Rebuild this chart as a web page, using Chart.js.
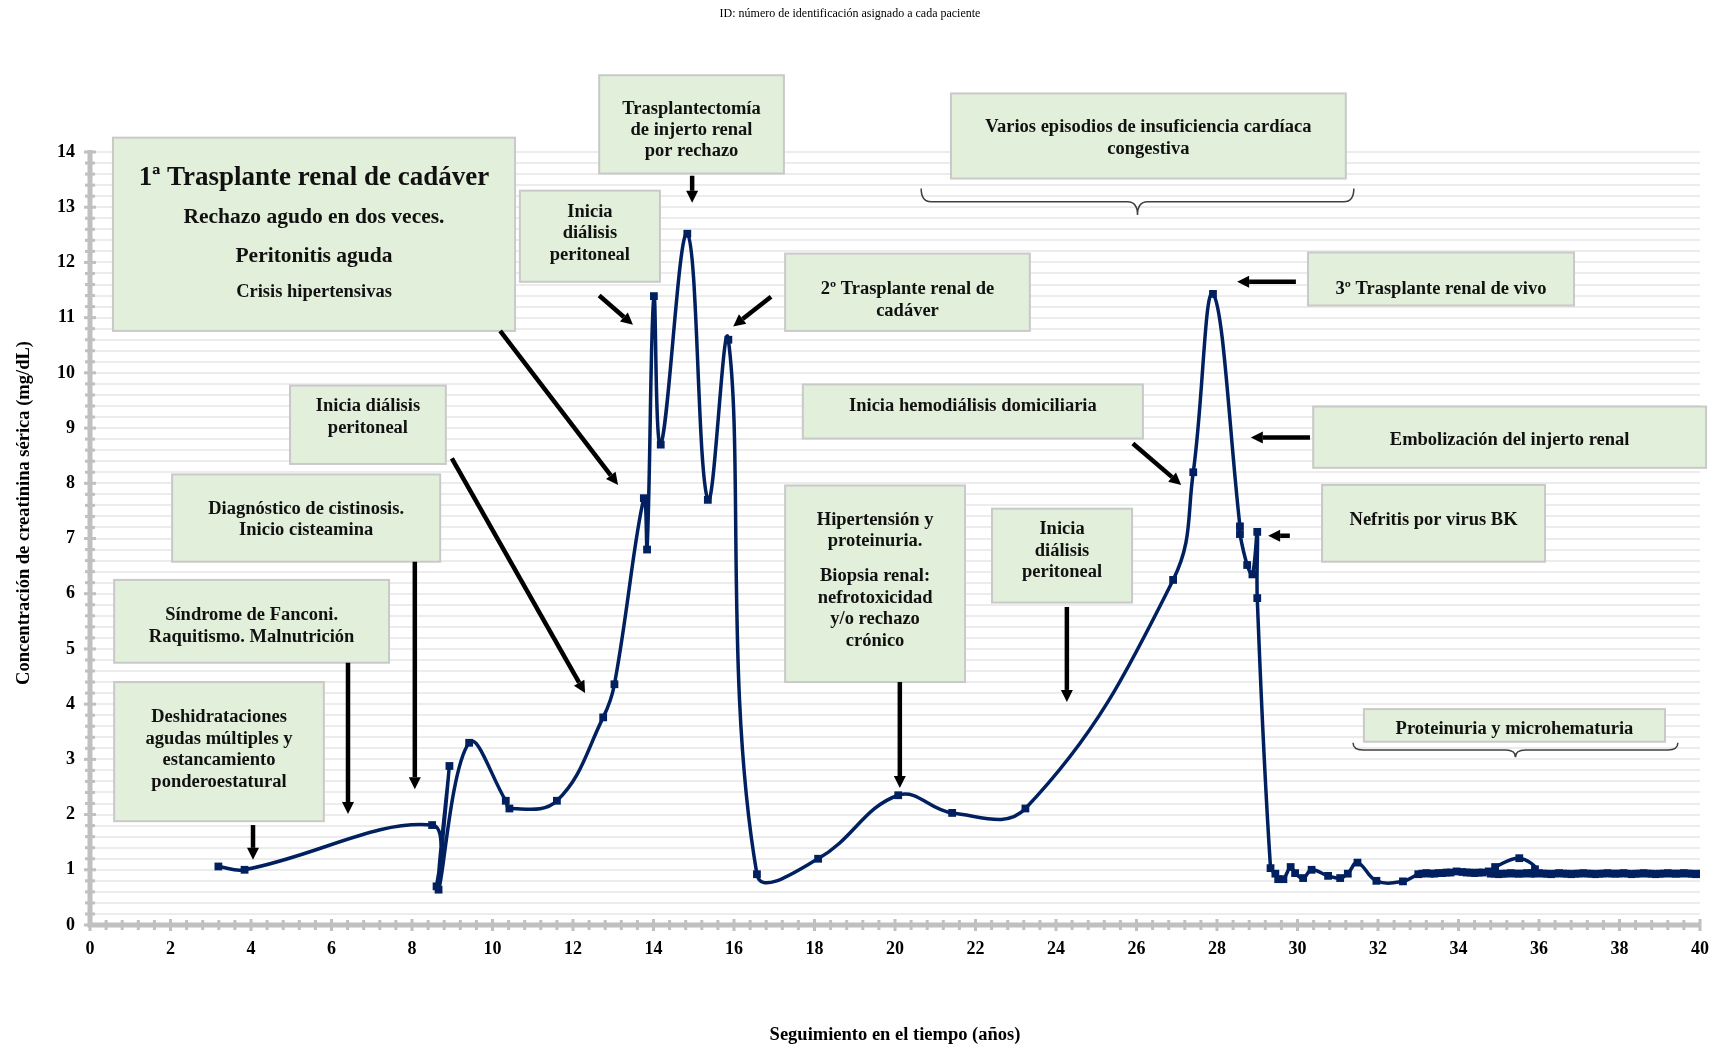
<!DOCTYPE html>
<html>
<head>
<meta charset="utf-8">
<script src="https://cdn.jsdelivr.net/npm/chart.js@4.4.1/dist/chart.umd.min.js"></script>
<style>
  html, body { margin: 0; padding: 0; background: #ffffff; }
  #wrap { width: 1720px; height: 1049px; position: relative; }
</style>
</head>
<body>
<div id="wrap"><canvas id="chart" width="1720" height="1049"></canvas></div>
<script>
// Serum creatinine follow-up (years since first visit, mg/dL)
const years = [
  3.19, 3.84, 8.50, 8.61, 8.93, 8.66, 9.42, 10.33, 10.42, 11.60,
  12.75, 13.03, 13.76, 13.84, 14.01, 14.18, 14.84, 15.35, 15.86, 16.57,
  18.09, 20.08, 21.42, 23.24, 26.91, 27.41, 27.90, 28.57, 28.57, 28.75,
  28.88, 29.00, 29.00, 29.33, 29.45, 29.52, 29.65, 29.83, 29.94, 30.14,
  30.35, 30.76, 31.06, 31.25, 31.49, 31.96, 32.62,
  33.00, 33.10, 33.20, 33.30, 33.40, 33.50, 33.60, 33.70, 33.80, 33.95,
  34.10, 34.20, 34.30, 34.40, 34.50, 34.60, 34.75, 34.91, 35.51, 35.90,
  34.80, 34.90, 35.00, 35.10, 35.20, 35.30, 35.40, 35.50, 35.60, 35.70,
  35.80, 35.90, 36.00, 36.10, 36.20, 36.30, 36.40, 36.50, 36.60, 36.70,
  36.80, 36.90, 37.00, 37.10, 37.20, 37.30, 37.40, 37.50, 37.60, 37.70,
  37.80, 37.90, 38.00, 38.10, 38.20, 38.30, 38.40, 38.50, 38.60, 38.70,
  38.80, 38.90, 39.00, 39.10, 39.20, 39.30, 39.40, 39.50, 39.60, 39.70,
  39.80, 39.90, 40.00
];
const creatinine = [
  1.06, 1.00, 1.81, 0.70, 2.88, 0.64, 3.30, 2.25, 2.11, 2.25,
  3.76, 4.36, 7.73, 6.80, 11.39, 8.70, 12.52, 7.70, 10.60, 0.92,
  1.20, 2.35, 2.03, 2.11, 6.25, 8.20, 11.43, 7.22, 7.08, 6.52,
  6.35, 7.12, 5.92, 1.03, 0.93, 0.83, 0.83, 1.05, 0.94, 0.85,
  1.00, 0.89, 0.85, 0.93, 1.13, 0.80, 0.79,
  0.92, 0.93, 0.94, 0.93, 0.93, 0.94, 0.94, 0.95, 0.95, 0.97,
  0.96, 0.95, 0.95, 0.94, 0.95, 0.95, 0.97, 1.05, 1.21, 1.01,
  0.93, 0.93, 0.92, 0.93, 0.93, 0.94, 0.93, 0.93, 0.93, 0.94,
  0.93, 0.93, 0.94, 0.93, 0.93, 0.92, 0.93, 0.94, 0.93, 0.93,
  0.92, 0.93, 0.93, 0.94, 0.93, 0.93, 0.92, 0.93, 0.93, 0.94,
  0.93, 0.93, 0.93, 0.94, 0.93, 0.92, 0.93, 0.93, 0.94, 0.93,
  0.93, 0.92, 0.93, 0.93, 0.94, 0.93, 0.93, 0.93, 0.94, 0.93,
  0.93, 0.92, 0.93
];

const headerText = 'ID: número de identificación asignado a cada paciente';
const xTitle = 'Seguimiento en el tiempo (años)';
const yTitle = 'Concentración de creatinina sérica (mg/dL)';

const NAVY = '#002060';
const SERIF = '"Liberation Serif", "Times New Roman", serif';

// Clinical event notes: box corners in axis units, text lines as [text, px size, px offset from box top]
const notes = [
  { x1: 0.57, x2: 10.56, y1: 14.26, y2: 10.76, lines: [
      ['1ª Trasplante renal de cadáver', 27, 40],
      ['Rechazo agudo en dos veces.', 21.5, 80],
      ['Peritonitis aguda', 21.5, 119],
      ['Crisis hipertensivas', 18.5, 155]] },
  { x1: 0.60, x2: 5.81, y1: 4.40, y2: 1.88, lines: [
      ['Deshidrataciones', 18.5, 35], ['agudas múltiples y', 18.5, 57],
      ['estancamiento', 18.5, 78], ['ponderoestatural', 18.5, 100]] },
  { x1: 0.60, x2: 7.43, y1: 6.25, y2: 4.75, lines: [
      ['Síndrome de Fanconi.', 18.5, 35], ['Raquitismo. Malnutrición', 18.5, 57]] },
  { x1: 2.04, x2: 8.70, y1: 8.16, y2: 6.58, lines: [
      ['Diagnóstico de cistinosis.', 18.5, 35], ['Inicio cisteamina', 18.5, 56]] },
  { x1: 4.97, x2: 8.84, y1: 9.77, y2: 8.35, lines: [
      ['Inicia diálisis', 18.5, 21], ['peritoneal', 18.5, 43]] },
  { x1: 10.68, x2: 14.16, y1: 13.30, y2: 11.65, lines: [
      ['Inicia', 18.5, 22], ['diálisis', 18.5, 43], ['peritoneal', 18.5, 65]] },
  { x1: 12.65, x2: 17.24, y1: 15.39, y2: 13.61, lines: [
      ['Trasplantectomía', 18.5, 34], ['de injerto renal', 18.5, 55], ['por rechazo', 18.5, 76]] },
  { x1: 17.27, x2: 23.35, y1: 12.16, y2: 10.76, lines: [
      ['2º Trasplante renal de', 18.5, 36], ['cadáver', 18.5, 58]] },
  { x1: 21.39, x2: 31.20, y1: 15.06, y2: 13.52, lines: [
      ['Varios episodios de insuficiencia cardíaca', 18.5, 34], ['congestiva', 18.5, 56]] },
  { x1: 17.71, x2: 26.16, y1: 9.79, y2: 8.81, lines: [
      ['Inicia hemodiálisis domiciliaria', 18.5, 22]] },
  { x1: 17.27, x2: 21.74, y1: 7.96, y2: 4.40, lines: [
      ['Hipertensión y', 18.5, 35], ['proteinuria.', 18.5, 56],
      ['Biopsia renal:', 18.5, 91], ['nefrotoxicidad', 18.5, 113],
      ['y/o rechazo', 18.5, 134], ['crónico', 18.5, 156]] },
  { x1: 22.41, x2: 25.89, y1: 7.54, y2: 5.84, lines: [
      ['Inicia', 18.5, 21], ['diálisis', 18.5, 43], ['peritoneal', 18.5, 64]] },
  { x1: 30.26, x2: 36.87, y1: 12.18, y2: 11.22, lines: [
      ['3º Trasplante renal de vivo', 18.5, 37]] },
  { x1: 30.39, x2: 40.15, y1: 9.39, y2: 8.28, lines: [
      ['Embolización del injerto renal', 18.5, 34]] },
  { x1: 30.61, x2: 36.15, y1: 7.97, y2: 6.58, lines: [
      ['Nefritis por virus BK', 18.5, 35]] },
  { x1: 31.65, x2: 39.13, y1: 3.91, y2: 3.32, lines: [
      ['Proteinuria y microhematuria', 18.5, 20]] }
];

// Arrows from notes to events: [xFrom, yFrom, xTo, yTo] in axis units
const arrows = [
  [4.05, 1.81, 4.05, 1.18],
  [6.41, 4.75, 6.41, 2.01],
  [8.07, 6.58, 8.07, 2.46],
  [8.99, 8.45, 12.30, 4.20],
  [10.19, 10.76, 13.12, 7.97],
  [12.65, 11.40, 13.49, 10.87],
  [14.96, 13.57, 14.96, 13.08],
  [16.92, 11.38, 15.98, 10.84],
  [20.12, 4.40, 20.12, 2.48],
  [24.27, 5.76, 24.27, 4.04],
  [25.91, 8.72, 27.11, 7.97],
  [29.96, 11.65, 28.50, 11.65],
  [30.31, 8.83, 28.84, 8.83],
  [29.81, 7.05, 29.27, 7.05]
];

// Curly braces spanning periods: [xStart, xEnd, yEnds, yBar, yTip]
const braces = [
  [20.65, 31.40, 13.34, 13.10, 12.86],
  [31.38, 39.45, 3.30, 3.17, 3.04]
];

const points = years.map((x, i) => ({ x: x, y: creatinine[i] }));

const axisPlugin = {
  id: 'axisMarks',
  beforeDatasetsDraw(chart) {
    const { ctx, chartArea: a, scales: { x, y } } = chart;
    ctx.save();
    ctx.strokeStyle = '#c0c0c0';
    ctx.fillStyle = '#c0c0c0';
    ctx.lineWidth = 5;
    ctx.beginPath();
    ctx.moveTo(a.left, a.top - 2);
    ctx.lineTo(a.left, a.bottom);
    ctx.lineTo(a.right, a.bottom);
    ctx.stroke();
    // crossing tick marks
    for (let k = 0; k <= 100; k++) {
      const px = x.getPixelForValue(k * 0.4);
      const major = k % 5 === 0;
      ctx.fillRect(px - 1.5, a.bottom - (major ? 6 : 5), 3, major ? 12 : 10);
    }
    for (let k = 0; k <= 70; k++) {
      const py = y.getPixelForValue(k * 0.2);
      const major = k % 5 === 0;
      ctx.fillRect(a.left - (major ? 6 : 5), py - 1.5, major ? 12 : 10, 3);
    }
    ctx.restore();
  },
  afterDraw(chart) {
    // vertical axis title, centred on the label column
    const { ctx } = chart;
    ctx.save();
    ctx.translate(24, 513);
    ctx.rotate(-Math.PI / 2);
    ctx.fillStyle = '#000000';
    ctx.font = 'bold 18.5px ' + SERIF;
    ctx.textAlign = 'center';
    ctx.textBaseline = 'middle';
    ctx.fillText(yTitle, 0, 0);
    ctx.restore();
  }
};

function drawArrow(ctx, x0, y0, x1, y1) {
  const ang = Math.atan2(y1 - y0, x1 - x0);
  const head = 12, half = 6;
  const bx = x1 - head * Math.cos(ang), by = y1 - head * Math.sin(ang);
  ctx.beginPath();
  ctx.moveTo(x0, y0);
  ctx.lineTo(bx, by);
  ctx.stroke();
  ctx.beginPath();
  ctx.moveTo(x1, y1);
  ctx.lineTo(bx + half * Math.sin(ang), by - half * Math.cos(ang));
  ctx.lineTo(bx - half * Math.sin(ang), by + half * Math.cos(ang));
  ctx.closePath();
  ctx.fill();
}

function drawBrace(ctx, xa, xb, yEnd, yBar, yTip) {
  const r = Math.min(10, Math.abs(yBar - yEnd) + 4);
  const cx = (xa + xb) / 2;
  ctx.beginPath();
  ctx.moveTo(xa, yEnd);
  ctx.quadraticCurveTo(xa, yBar, xa + r, yBar);
  ctx.lineTo(cx - r, yBar);
  ctx.quadraticCurveTo(cx, yBar, cx, yTip);
  ctx.quadraticCurveTo(cx, yBar, cx + r, yBar);
  ctx.lineTo(xb - r, yBar);
  ctx.quadraticCurveTo(xb, yBar, xb, yEnd);
  ctx.stroke();
}

const notesPlugin = {
  id: 'clinicalNotes',
  afterDatasetsDraw(chart) {
    const { ctx, scales: { x, y } } = chart;
    ctx.save();
    notes.forEach(n => {
      const l = x.getPixelForValue(n.x1), r = x.getPixelForValue(n.x2);
      const t = y.getPixelForValue(n.y1), b = y.getPixelForValue(n.y2);
      ctx.fillStyle = '#e2efda';
      ctx.fillRect(l, t, r - l, b - t);
      ctx.strokeStyle = '#c9c9c9';
      ctx.lineWidth = 2;
      ctx.strokeRect(l, t, r - l, b - t);
      ctx.fillStyle = '#111111';
      ctx.textAlign = 'center';
      ctx.textBaseline = 'middle';
      n.lines.forEach(([txt, size, off]) => {
        ctx.font = 'bold ' + size + 'px ' + SERIF;
        ctx.fillText(txt, (l + r) / 2, t + off);
      });
    });
    ctx.strokeStyle = '#000000';
    ctx.fillStyle = '#000000';
    ctx.lineWidth = 4.5;
    ctx.lineCap = 'butt';
    arrows.forEach(([a, b, c, d]) => {
      drawArrow(ctx, x.getPixelForValue(a), y.getPixelForValue(b),
                x.getPixelForValue(c), y.getPixelForValue(d));
    });
    ctx.strokeStyle = '#404040';
    ctx.lineWidth = 1.5;
    braces.forEach(([xa, xb, ye, yb, yt]) => {
      drawBrace(ctx, x.getPixelForValue(xa), x.getPixelForValue(xb),
                y.getPixelForValue(ye), y.getPixelForValue(yb), y.getPixelForValue(yt));
    });
    ctx.restore();
  }
};

new Chart(document.getElementById('chart'), {
  type: 'line',
  data: {
    datasets: [{
      data: points,
      borderColor: NAVY,
      backgroundColor: NAVY,
      borderWidth: 3.5,
      tension: 0.4,
      pointStyle: 'rect',
      pointRadius: 5.5,
      pointHoverRadius: 5.5,
      pointBorderWidth: 0,
      fill: false
    }]
  },
  options: {
    responsive: false,
    animation: false,
    devicePixelRatio: 1,
    layout: { padding: { left: 0, right: 20, top: 0, bottom: 0 } },
    plugins: {
      legend: { display: false },
      tooltip: { enabled: false },
      title: {
        display: true,
        text: headerText,
        color: '#000000',
        font: { family: SERIF, size: 12, weight: 'normal' },
        padding: { top: 7, bottom: 130.6 }
      }
    },
    scales: {
      x: {
        type: 'linear',
        min: 0, max: 40,
        grid: { display: false },
        border: { display: false },
        ticks: {
          stepSize: 2,
          color: '#000000',
          padding: 6,
          maxRotation: 0,
          font: { family: SERIF, size: 18, weight: 'bold' }
        },
        title: {
          display: true,
          text: xTitle,
          color: '#000000',
          font: { family: SERIF, size: 18.5, weight: 'bold' },
          padding: { top: 0, bottom: 3 }
        },
        afterFit(scale) { scale.height = 124; }
      },
      y: {
        min: 0, max: 14,
        grid: { color: '#ececec', lineWidth: 2, drawTicks: false },
        border: { display: false },
        ticks: {
          stepSize: 0.2,
          autoSkip: false,
          color: '#000000',
          padding: 15,
          font: { family: SERIF, size: 18, weight: 'bold' },
          callback(v) {
            const r = Math.round(v);
            return Math.abs(v - r) < 1e-6 ? String(r) : '';
          }
        },
        title: { display: false },
        afterFit(scale) { scale.width = 90; }
      }
    }
  },
  plugins: [axisPlugin, notesPlugin]
});
</script>
</body>
</html>
